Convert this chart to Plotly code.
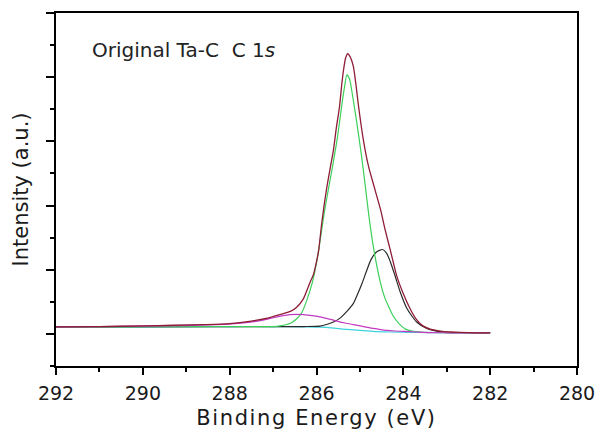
import plotly.graph_objects as go

# Binding energy (eV) and intensity (a.u.)
env_x = [292.0, 291.0, 290.0, 289.3, 288.6, 288.0, 287.5, 287.1, 286.8, 286.6, 286.45, 286.3,
         286.22, 286.15, 286.07, 286.0, 285.95, 285.88, 285.82, 285.76, 285.68, 285.61, 285.54,
         285.47, 285.42, 285.38, 285.33, 285.28, 285.22, 285.15, 285.09, 285.03, 284.92, 284.80,
         284.65, 284.52, 284.42, 284.30, 284.15, 284.00, 283.85, 283.70, 283.55, 283.38, 283.1,
         282.9, 282.5, 282.0]
env_y = [1.22, 1.23, 1.25, 1.27, 1.29, 1.32, 1.40, 1.50, 1.62, 1.70, 1.84, 2.10,
         2.36, 2.60, 2.85, 3.25, 3.61, 4.44, 5.05, 5.59, 6.20, 6.73, 7.45,
         8.08, 8.75, 9.20, 9.60, 9.73, 9.62, 9.33, 8.75, 8.08, 7.04, 6.21,
         5.48, 4.85, 4.25, 3.61, 2.80, 2.25, 1.80, 1.45, 1.25, 1.15, 1.08,
         1.06, 1.04, 1.03]

green_x = [292.0, 289.0, 287.5, 287.0, 286.84, 286.6, 286.45, 286.34, 286.21, 286.10, 286.03,
           285.95, 285.88, 285.80, 285.72, 285.62, 285.52, 285.42, 285.36, 285.30, 285.24,
           285.19, 285.07, 284.96, 284.88, 284.80, 284.70, 284.60, 284.50, 284.42, 284.32,
           284.23, 284.10, 283.95, 283.80, 283.60, 283.0, 282.0]
green_y = [1.22, 1.23, 1.23, 1.23, 1.25, 1.33, 1.48, 1.66, 2.10, 2.58, 3.00,
           3.60, 4.25, 4.95, 5.55, 6.30, 7.10, 8.10, 8.65, 9.07, 8.95,
           8.60, 7.57, 6.52, 5.65, 4.75, 3.80, 3.05, 2.45, 2.10, 1.80,
           1.55, 1.32, 1.15, 1.09, 1.06, 1.04, 1.03]

black_x = [292.0, 287.0, 286.3, 285.92, 285.75, 285.61, 285.45, 285.30, 285.15, 285.05, 284.95,
           284.85, 284.75, 284.62, 284.48, 284.38, 284.30, 284.20, 284.07, 283.92, 283.80,
           283.70, 283.46, 283.2, 283.0, 282.5, 282.0]
black_y = [1.22, 1.23, 1.23, 1.24, 1.30, 1.37, 1.50, 1.70, 1.95, 2.25, 2.58,
           2.95, 3.30, 3.55, 3.63, 3.50, 3.25, 2.85, 2.30, 1.80, 1.55,
           1.38, 1.17, 1.08, 1.05, 1.04, 1.03]

mag_x = [292.0, 291.0, 290.0, 289.0, 288.3, 287.8, 287.4, 287.07, 286.8, 286.61, 286.45, 286.30,
         286.1, 285.92, 285.73, 285.53, 285.34, 285.15, 284.96, 284.77, 284.58, 284.38, 284.19,
         284.0, 283.7, 283.38, 283.0, 282.0]
mag_y = [1.22, 1.23, 1.24, 1.26, 1.29, 1.33, 1.39, 1.48, 1.56, 1.60, 1.61, 1.60,
         1.57, 1.53, 1.47, 1.40, 1.34, 1.29, 1.24, 1.19, 1.15, 1.11, 1.09,
         1.08, 1.06, 1.04, 1.035, 1.03]

base_x = [292.0, 290.0, 288.0, 287.0, 286.3, 285.92, 285.6, 285.3, 285.0, 284.7, 284.3, 283.9,
          283.4, 282.9, 282.0]
base_y = [1.22, 1.22, 1.23, 1.23, 1.22, 1.21, 1.18, 1.14, 1.11, 1.08, 1.06, 1.05,
          1.04, 1.04, 1.03]

x_ticks = [292, 290, 288, 286, 284, 282, 280]

FONT = "DejaVu Sans"

fig = go.Figure()
line_kw = dict(shape="spline", smoothing=0.6)
fig.add_trace(go.Scatter(x=base_x, y=base_y, mode="lines",
                         line=dict(color="#3fd3e0", width=1.2, **line_kw)))
fig.add_trace(go.Scatter(x=black_x, y=black_y, mode="lines",
                         line=dict(color="#2a2a2a", width=1.2, **line_kw)))
fig.add_trace(go.Scatter(x=green_x, y=green_y, mode="lines",
                         line=dict(color="#3ccf5a", width=1.2, **line_kw)))
fig.add_trace(go.Scatter(x=mag_x, y=mag_y, mode="lines",
                         line=dict(color="#c23ac2", width=1.2, **line_kw)))
fig.add_trace(go.Scatter(x=env_x, y=env_y, mode="lines",
                         line=dict(color="#8e1c36", width=1.3, **line_kw)))

fig.add_annotation(text="Original Ta-C\u00a0\u00a0C 1<i>s</i>", xref="paper", yref="paper",
                   x=0.066, y=0.894, xanchor="left", yanchor="middle", showarrow=False,
                   font=dict(family=FONT, size=20, color="#222222"))

fig.update_layout(
    width=595, height=430,
    margin=dict(l=56, r=18, t=13, b=64, autoexpand=False),
    paper_bgcolor="white", plot_bgcolor="white",
    showlegend=False,
    font=dict(family=FONT, color="#1a1a1a"),
    xaxis=dict(range=[292, 280], tickvals=x_ticks, ticktext=[str(v) for v in x_ticks],
               ticks="outside", ticklen=7, tickwidth=2, tickcolor="black",
               ticklabelstandoff=2, ticklabeloverflow="allow",
               showline=True, linecolor="black", linewidth=2, mirror=True,
               showgrid=False, zeroline=False,
               tickfont=dict(family=FONT, size=19, color="#1a1a1a"),
               minor=dict(dtick=1, tick0=280, ticks="outside", ticklen=4, tickwidth=2,
                          tickcolor="black", showgrid=False),
               title=dict(text="Binding Energy (eV)", standoff=16,
                          font=dict(family=FONT, size=21, color="#1a1a1a"))),
    yaxis=dict(range=[0, 11], tick0=1, dtick=2, showticklabels=False,
               ticks="outside", ticklen=8, tickwidth=2, tickcolor="black",
               showline=True, linecolor="black", linewidth=2, mirror=True,
               showgrid=False, zeroline=False,
               minor=dict(dtick=1, tick0=0, ticks="outside", ticklen=4, tickwidth=2,
                          tickcolor="black", showgrid=False),
               title=dict(text="Intensity (a.u.)", standoff=12,
                          font=dict(family=FONT, size=21, color="#1a1a1a"))),
)

fig.write_html(
    "out.html", config={"displayModeBar": False},
    post_script=("document.body.style.margin='0';document.body.style.overflow='hidden';"
                 "document.querySelectorAll('.xtitle').forEach(function(t){"
                 "t.style.letterSpacing='1.6px';});"))
